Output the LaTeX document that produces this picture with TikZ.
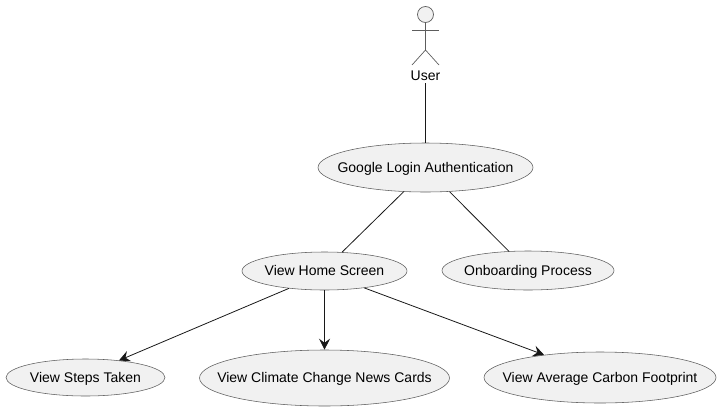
\documentclass[tikz,border=0pt]{standalone}
\usepackage{fontspec}
\setmainfont{Liberation Sans}
\usetikzlibrary{shapes.geometric,arrows.meta}
\definecolor{ucfill}{HTML}{F1F1F1}
\definecolor{ucline}{HTML}{181818}
\newcommand{\uctext}[1]{\raisebox{-4.8pt}[0pt][0pt]{\makebox[0pt]{#1}}}
\tikzset{
  x=1pt,y=-1pt,
  usecase/.style={ellipse,draw=ucline!70,fill=ucfill,line width=0.55pt,inner sep=0pt,text=black,font=\fontsize{14}{16}\selectfont},
  actorline/.style={draw=ucline!70,line width=0.7pt},
  link/.style={draw=ucline,line width=0.8pt},
  flow/.style={link,-{Stealth[length=11pt,width=11pt,inset=4pt]}},
}
\begin{document}
\begin{tikzpicture}
\useasboundingbox (0,0) rectangle (720,410);
\node[usecase,minimum width=215pt,minimum height=49pt] (google) at (425.5,167.5) {\uctext{Google Login Authentication}};
\node[usecase,minimum width=165pt,minimum height=38pt] (home) at (324.5,271) {\uctext{View Home Screen}};
\node[usecase,minimum width=172pt,minimum height=39pt] (onboard) at (528,270.5) {\uctext{Onboarding Process}};
\node[usecase,minimum width=159pt,minimum height=37pt] (steps) at (85.5,377.5) {\uctext{View Steps Taken}};
\node[usecase,minimum width=250pt,minimum height=56pt] (news) at (324.5,378) {\uctext{View Climate Change News Cards}};
\node[usecase,minimum width=232pt,minimum height=51pt] (carbon) at (600,377.5) {\uctext{View Average Carbon Footprint}};
% actor
\node[circle,draw=ucline!70,fill=ucfill,line width=0.7pt,minimum size=16pt,inner sep=0pt] (head) at (425.5,14.5) {};
\coordinate (hip) at (425.5,50);
\coordinate (armL) at (412,30);
\coordinate (armR) at (439,30);
\coordinate (legL) at (412,65);
\coordinate (legR) at (439,65);
\draw[actorline] (head.south) -- (hip);
\draw[actorline] (armL) -- (armR);
\draw[actorline] (legL) -- (hip) -- (legR);
\node[font=\fontsize{14}{16}\selectfont,inner sep=0pt,minimum height=16pt] (user) at (425.5,76) {User};
% links
\coordinate (userout) at (425.5,83);
\draw[link] (userout) -- (google);
\draw[link] (google.228) -- (home.47);
\draw[link] (google) -- (onboard);
\draw[flow] (home.206) -- (steps.27);
\draw[flow] (home) -- (news);
\draw[flow] (home.-23) -- (carbon.158);
\end{tikzpicture}
\end{document}
